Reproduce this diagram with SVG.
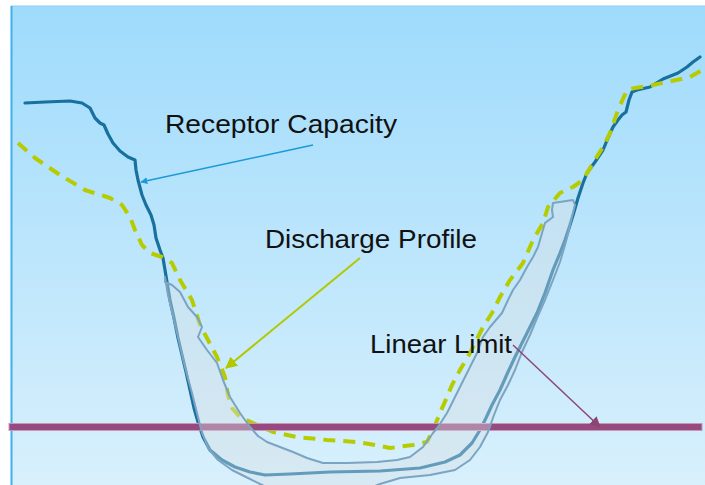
<svg xmlns="http://www.w3.org/2000/svg" width="705" height="485" viewBox="0 0 705 485">
<defs>
<linearGradient id="bg" x1="0" y1="0" x2="0" y2="1">
<stop offset="0" stop-color="#9fdbfc"/>
<stop offset="1" stop-color="#d8f0fc"/>
</linearGradient>
<marker id="ahBlue" viewBox="0 0 10 10" refX="9" refY="5" markerWidth="7" markerHeight="7" orient="auto" markerUnits="userSpaceOnUse">
<path d="M0,0 L10,5 L0,10 Z" fill="#1b9ad6"/>
</marker>
<marker id="ahGreen" viewBox="0 0 10 10" refX="9" refY="5" markerWidth="12" markerHeight="12" orient="auto" markerUnits="userSpaceOnUse">
<path d="M0,0 L10,5 L0,10 Z" fill="#b2c800"/>
</marker>
<marker id="ahPurple" viewBox="0 0 10 10" refX="9" refY="5" markerWidth="11" markerHeight="11" orient="auto" markerUnits="userSpaceOnUse">
<path d="M0,0 L10,5 L0,10 Z" fill="#8c4676"/>
</marker>
</defs>
<style>
.lbl{font-family:"Liberation Sans",Arial,sans-serif;font-size:25.5px;fill:#111111;}
.recep{fill:none;stroke:#17709e;stroke-width:3.2;stroke-linejoin:round;stroke-linecap:round;}
.disch{fill:none;stroke:#b6cc00;stroke-width:4;stroke-dasharray:12 8;stroke-linejoin:round;}
.band{fill:#d6dfe4;fill-opacity:0.4;stroke:#7ba3c2;stroke-width:2;stroke-linejoin:round;}
</style>
<rect x="0" y="0" width="705" height="485" fill="#ffffff"/>
<rect x="11" y="6" width="694" height="479" fill="url(#bg)"/>
<line x1="11" y1="6" x2="705" y2="6" stroke="#8fcdee" stroke-width="1"/>
<line x1="11.5" y1="6" x2="11.5" y2="485" stroke="#3fb0ee" stroke-width="2"/>

<g id="receptor-capacity-curve">
<path class="recep" d="M25,103 L45,102 L70,101 L82,103 L90,108 L95,118 L100,123 L104,125 L108,134 L113,143 L120,151 L128,157 L135,160 L136,170 L138,180 L142,195 L146,205 L151,215 L154,225 L156,238 L160,250 L163,258 L165,270 L167,282 L170,300 L174,318 L178,338 L182,355 L186,372 L190,390 L194,408 L198,422 L203,437 L210,450 L222,460 L235,467 L250,472 L265,475 L290,474 L330,472 L380,471 L420,468 L445,462 L460,455 L472,443 L480,430 L486,418 L492,405 L500,390 L508,372 L515,357 L522,343 L530,327 L537,313 L545,293 L553,270 L560,253 L565,240 L570,225 L574,212 L578,198 L583,183 L587,173 L595,162 L603,150 L608,138 L613,127 L618,120 L622,115 L626,112 L629,100 L632,92 L637,90 L650,87 L663,79 L678,73 L687,67 L693,62 L700,57"/>
</g>

<g id="discharge-profile-curve">
<path class="disch" d="M18,143 L35,158 L60,175 L85,190 L110,198 L122,205 L130,217 L135,230 L142,245 L150,253 L162,257 L172,263 L180,280 L192,300 L200,325 L208,340 L217,357 L225,377 L228,395 L232,408 L240,417 L253,423 L273,432 L297,437 L327,440 L357,442 L375,445 L390,448 L413,445 L427,442 L433,430 L440,413 L447,397 L452,385 L460,370 L470,353 L483,327 L492,313 L500,297 L510,280 L523,263 L533,240 L543,223 L548,207 L560,193 L573,187 L583,180 L593,163 L603,147 L610,133 L618,110 L627,90 L635,88 L653,85 L667,82 L690,77 L702,70"/>
</g>

<g id="linear-limit-line">
<rect x="9" y="423.5" width="693" height="7" fill="#984a80" stroke="#c49ab8" stroke-width="1"/>
</g>

<g id="band">
<path class="band" d="M165,277 L168,295 L172,312 L177,333 L182,355 L187,375 L192,393 L197,413 L202,433 L208,448 L218,460 L232,470 L248,478 L262,485 L275,492 L360,492 L380,484 L400,478 L430,475 L455,470 L470,460 L480,447 L488,432 L494,415 L500,400 L508,385 L515,370 L522,352 L530,335 L537,318 L545,300 L553,280 L560,262 L565,245 L569,230 L572,217 L575,205 L573,200 L553,203 L552,210 L553,217 L545,223 L542,233 L538,247 L533,257 L527,267 L520,280 L513,290 L508,300 L502,313 L490,327 L483,337 L477,353 L467,373 L457,393 L447,413 L438,427 L433,433 L423,447 L410,457 L397,460 L377,462 L347,463 L323,463 L307,458 L293,452 L280,447 L267,442 L258,436 L250,427 L240,413 L230,397 L223,380 L217,363 L207,350 L198,337 L202,327 L197,317 L188,307 L180,292 L172,285 L165,282 Z"/>
</g>

<g id="connectors">
<line x1="313" y1="145" x2="141" y2="182" stroke="#1b9ad6" stroke-width="1.5" marker-end="url(#ahBlue)"/>
<line x1="360" y1="258" x2="226" y2="368" stroke="#b2c800" stroke-width="2" marker-end="url(#ahGreen)"/>
<line x1="513" y1="345" x2="600" y2="427" stroke="#8c4676" stroke-width="1.5" marker-end="url(#ahPurple)"/>
</g>

<g id="label-receptor">
<text class="lbl" x="165" y="133" textLength="232" lengthAdjust="spacingAndGlyphs">Receptor Capacity</text>
</g>
<g id="label-discharge">
<text class="lbl" x="265" y="248" textLength="212" lengthAdjust="spacingAndGlyphs">Discharge Profile</text>
</g>
<g id="label-linear">
<text class="lbl" x="370" y="353" textLength="142" lengthAdjust="spacingAndGlyphs">Linear Limit</text>
</g>
</svg>
